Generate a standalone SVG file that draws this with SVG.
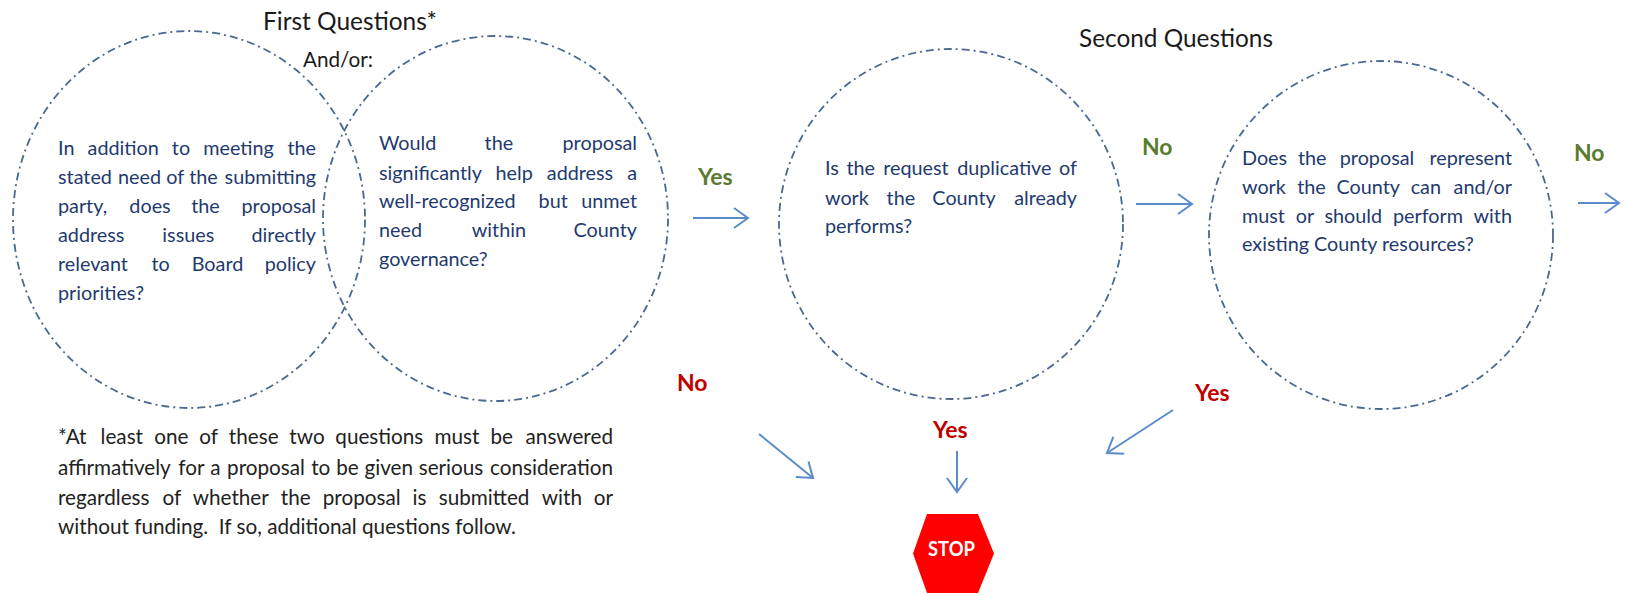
<svg xmlns="http://www.w3.org/2000/svg" width="1627" height="595" viewBox="0 0 1627 595">
<defs>
<style>
text{font-family:Lato,"Liberation Sans",Arial,sans-serif;}
.q{font-size:19.8px;fill:#1F3A6E;}
.f{font-size:20.7px;fill:#222222;}
.t{font-size:24.5px;fill:#1a1a1a;}
.ao{font-size:20.5px;fill:#1a1a1a;}
.g{font-size:23px;font-weight:bold;fill:#5B7B2E;}
.r{font-size:23px;font-weight:bold;fill:#C00000;}
.s{text-anchor:start;}
.m{text-anchor:middle;}
.e{text-anchor:end;}
.ring{fill:none;stroke:#4A6890;stroke-width:1.8;stroke-dasharray:8 4 2 4;}
.arr{fill:none;stroke:#5B8BCB;stroke-width:2;marker-end:url(#head);}
</style>
<marker id="head" markerUnits="userSpaceOnUse" markerWidth="18" markerHeight="24" viewBox="0 0 18 24" refX="16" refY="12" orient="auto">
<path d="M2,2 L16,12 L2,22" fill="none" stroke="#5B8BCB" stroke-width="2"/>
</marker>
</defs>
<rect width="1627" height="595" fill="#ffffff"/>

<g id="titles">
<text class="t" x="263" y="30" textLength="174" lengthAdjust="spacingAndGlyphs">First Questions*</text>
<text class="ao" x="303" y="67" textLength="70" lengthAdjust="spacingAndGlyphs">And/or:</text>
<text class="t" x="1079" y="47" textLength="194" lengthAdjust="spacingAndGlyphs">Second Questions</text>
</g>

<g id="q1">
<ellipse class="ring" cx="189" cy="219.5" rx="176" ry="188.5"/>
<text class="q s" x="58" y="155">In</text>
<text class="q m" x="123.2" y="155">addition</text>
<text class="q m" x="181" y="155">to</text>
<text class="q m" x="238.6" y="155">meeting</text>
<text class="q e" x="316" y="155">the</text>
<text class="q s" x="58" y="184">stated</text>
<text class="q m" x="139.5" y="184">need</text>
<text class="q m" x="175.2" y="184">of</text>
<text class="q m" x="203.5" y="184">the</text>
<text class="q e" x="316" y="184">submitting</text>
<text class="q s" x="58" y="213">party,</text>
<text class="q m" x="150" y="213">does</text>
<text class="q m" x="205.5" y="213">the</text>
<text class="q e" x="316" y="213">proposal</text>
<text class="q s" x="58" y="242">address</text>
<text class="q m" x="188.3" y="242">issues</text>
<text class="q e" x="316" y="242">directly</text>
<text class="q s" x="58" y="271">relevant</text>
<text class="q m" x="160.7" y="271">to</text>
<text class="q m" x="217.5" y="271">Board</text>
<text class="q e" x="316" y="271">policy</text>
<text class="q s" x="58" y="300">priorities?</text>
</g>

<g id="q2">
<ellipse class="ring" cx="495.5" cy="218.5" rx="172.5" ry="182.5"/>
<text class="q s" x="379" y="150">Would</text>
<text class="q m" x="498.9" y="150">the</text>
<text class="q e" x="637" y="150">proposal</text>
<text class="q s" x="379" y="180">significantly</text>
<text class="q m" x="514.2" y="180">help</text>
<text class="q m" x="580" y="180">address</text>
<text class="q e" x="637" y="180">a</text>
<text class="q s" x="379" y="208">well-recognized</text>
<text class="q m" x="553.2" y="208">but</text>
<text class="q e" x="637" y="208">unmet</text>
<text class="q s" x="379" y="237">need</text>
<text class="q m" x="498.9" y="237">within</text>
<text class="q e" x="637" y="237">County</text>
<text class="q s" x="379" y="266">governance?</text>
</g>

<g id="footnote">
<text class="f s" x="58" y="444">*At</text>
<text class="f m" x="121.8" y="444">least</text>
<text class="f m" x="171.3" y="444">one</text>
<text class="f m" x="208.6" y="444">of</text>
<text class="f m" x="253.7" y="444">these</text>
<text class="f m" x="307" y="444">two</text>
<text class="f m" x="379.3" y="444">questions</text>
<text class="f m" x="456.9" y="444">must</text>
<text class="f m" x="501.8" y="444">be</text>
<text class="f e" x="613" y="444">answered</text>
<text class="f s" x="58" y="475">affirmatively</text>
<text class="f m" x="191.4" y="475">for</text>
<text class="f m" x="215.5" y="475">a</text>
<text class="f m" x="266" y="475">proposal</text>
<text class="f m" x="320.8" y="475">to</text>
<text class="f m" x="347.4" y="475">be</text>
<text class="f m" x="388.7" y="475">given</text>
<text class="f m" x="451" y="475">serious</text>
<text class="f e" x="613" y="475">consideration</text>
<text class="f s" x="58" y="505">regardless</text>
<text class="f m" x="171.8" y="505">of</text>
<text class="f m" x="230.8" y="505">whether</text>
<text class="f m" x="295.7" y="505">the</text>
<text class="f m" x="361.7" y="505">proposal</text>
<text class="f m" x="419.5" y="505">is</text>
<text class="f m" x="484.1" y="505">submitted</text>
<text class="f m" x="561.9" y="505">with</text>
<text class="f e" x="613" y="505">or</text>
<text class="f s" x="58" y="534" xml:space="preserve">without funding.  If so, additional questions follow.</text>
</g>

<g id="q3">
<ellipse class="ring" cx="951" cy="224" rx="172" ry="175"/>
<text class="q s" x="825" y="175">Is</text>
<text class="q m" x="860.7" y="175">the</text>
<text class="q m" x="916" y="175">request</text>
<text class="q m" x="1004.3" y="175">duplicative</text>
<text class="q e" x="1077" y="175">of</text>
<text class="q s" x="825" y="205">work</text>
<text class="q m" x="900.9" y="205">the</text>
<text class="q m" x="964.1" y="205">County</text>
<text class="q e" x="1077" y="205">already</text>
<text class="q s" x="825" y="233">performs?</text>
</g>

<g id="q4">
<ellipse class="ring" cx="1381" cy="235" rx="172" ry="174"/>
<text class="q s" x="1242" y="165">Does</text>
<text class="q m" x="1312.2" y="165">the</text>
<text class="q m" x="1377" y="165">proposal</text>
<text class="q e" x="1512" y="165">represent</text>
<text class="q s" x="1242" y="194">work</text>
<text class="q m" x="1311.5" y="194">the</text>
<text class="q m" x="1368.3" y="194">County</text>
<text class="q m" x="1425.8" y="194">can</text>
<text class="q e" x="1512" y="194">and/or</text>
<text class="q s" x="1242" y="223">must</text>
<text class="q m" x="1305" y="223">or</text>
<text class="q m" x="1353.3" y="223">should</text>
<text class="q m" x="1428" y="223">perform</text>
<text class="q e" x="1512" y="223">with</text>
<text class="q s" x="1242" y="251">existing County resources?</text>
</g>

<g id="stop">
<polygon points="913,553.5 927,514 978,514 994,553.5 978,593 927,593" fill="#FF0000"/>
<text x="951.5" y="556" text-anchor="middle" font-size="20px" font-weight="bold" fill="#ffffff" textLength="47" lengthAdjust="spacingAndGlyphs">STOP</text>
</g>

<g id="labels">
<text class="g" x="698" y="185">Yes</text>
<text class="g" x="1142" y="155">No</text>
<text class="g" x="1574" y="161">No</text>
<text class="r" x="677" y="391">No</text>
<text class="r" x="933" y="438">Yes</text>
<text class="r" x="1195" y="401">Yes</text>
</g>

<g id="connectors">
<line class="arr" x1="693" y1="218" x2="748" y2="218"/>
<line class="arr" x1="1136" y1="204" x2="1192" y2="204"/>
<line class="arr" x1="1578" y1="203" x2="1619" y2="203"/>
<line class="arr" x1="759" y1="434" x2="813" y2="478"/>
<line class="arr" x1="957" y1="451" x2="957" y2="492"/>
<line class="arr" x1="1173" y1="410" x2="1107" y2="453"/>
</g>
</svg>
